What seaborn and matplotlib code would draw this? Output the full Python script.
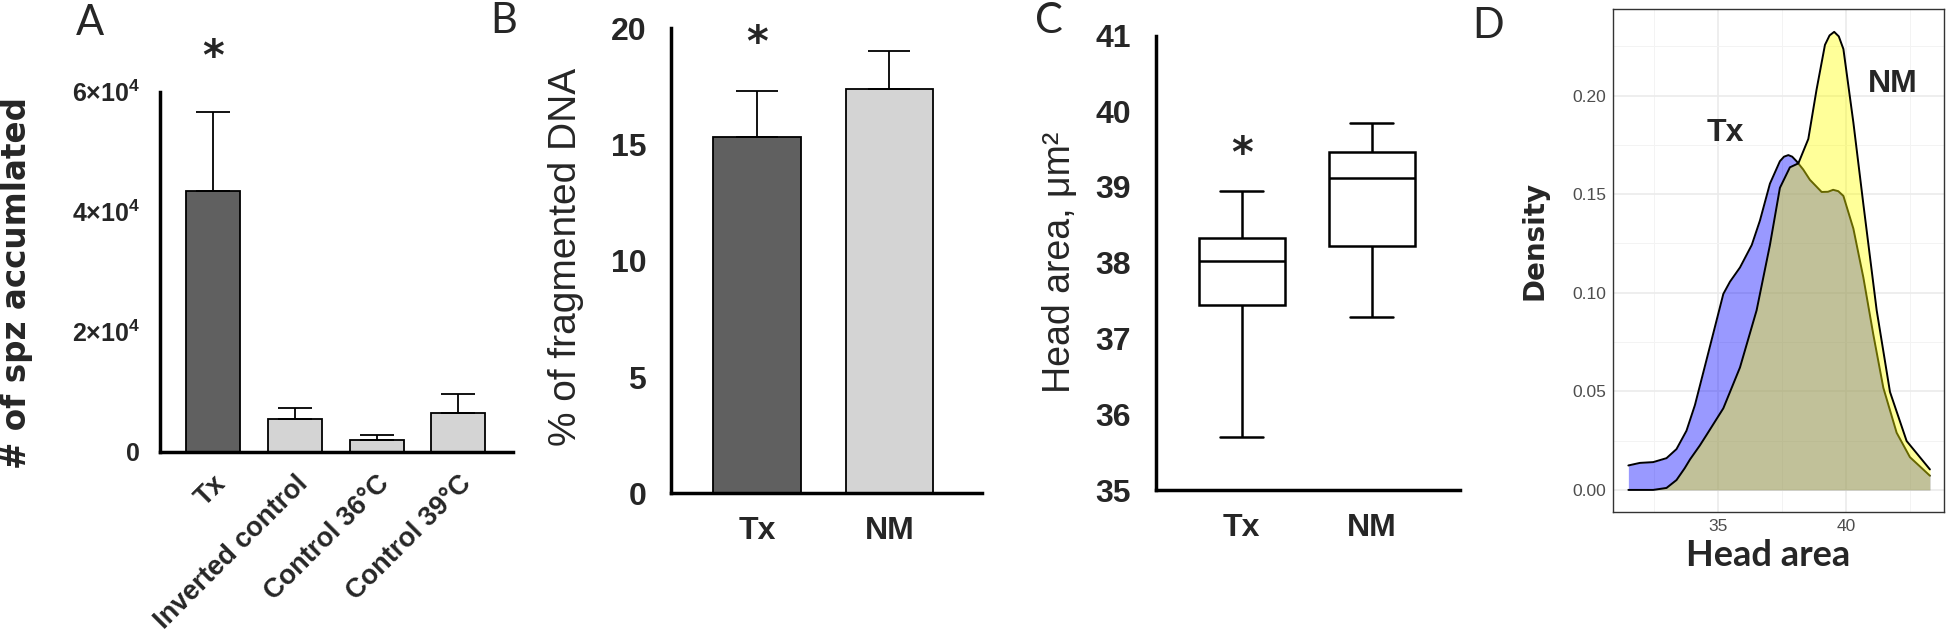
import numpy as np
import pandas as pd
import matplotlib
matplotlib.use("Agg")
import matplotlib.pyplot as plt
import seaborn as sns
from matplotlib.ticker import FixedLocator

# ---------------- data ----------------
a_groups = ["Tx", "Inverted control", "Control 36°C", "Control 39°C"]
a_means = [43500, 5500, 2000, 6500]
a_err = [13200, 1800, 850, 3050]
a_ticks = [0, 20000, 40000, 60000]
a_ticklabels = [r"$\mathbf{0}$", r"$\mathbf{2{\times}10^{4}}$",
                r"$\mathbf{4{\times}10^{4}}$", r"$\mathbf{6{\times}10^{4}}$"]

b_groups = ["Tx", "NM"]
b_means = [15.3, 17.4]
b_err = [2.0, 1.6]

c_groups = ["Tx", "NM"]
c_min = [35.70, 37.28]
c_q1 = [37.44, 38.22]
c_med = [38.02, 39.12]
c_q3 = [38.33, 39.46]
c_max = [38.95, 39.85]

d_tx_x = [31.50, 31.95, 32.47, 32.99, 33.38, 33.77, 34.10, 34.56, 35.21, 35.47, 35.86,
          36.32, 36.64, 37.03, 37.42, 37.58, 37.75, 37.90, 38.07, 38.33, 38.59, 39.05,
          39.30, 39.50, 39.70, 39.90, 40.29, 40.68, 41.07, 41.46, 41.98, 42.50, 43.28]
d_tx_y = [0.0124, 0.0137, 0.0141, 0.0161, 0.0207, 0.0300, 0.0430, 0.0663, 0.0994, 0.1056, 0.1128,
          0.1242, 0.1366, 0.1553, 0.1667, 0.1690, 0.1698, 0.1690, 0.1667, 0.1625, 0.1573, 0.1511,
          0.1512, 0.1522, 0.1515, 0.1491, 0.1325, 0.1077, 0.0787, 0.0518, 0.0290, 0.0166, 0.0072]
d_nm_x = [31.50, 32.47, 32.99, 33.38, 33.70, 33.91, 34.29, 34.56, 35.21, 35.86, 36.51,
          37.03, 37.42, 37.81, 38.14, 38.53, 38.85, 39.18, 39.36, 39.54, 39.72, 39.90,
          40.29, 40.68, 41.20, 41.72, 42.37, 43.28]
d_nm_y = [0.0, 0.0, 0.001, 0.005, 0.011, 0.0155, 0.0225, 0.028, 0.0414, 0.0621, 0.0911,
          0.1242, 0.1532, 0.1636, 0.1656, 0.1780, 0.2029, 0.2257, 0.2305, 0.2323, 0.2300, 0.2236,
          0.1863, 0.1449, 0.0911, 0.0497, 0.0248, 0.0104]

# ---------------- style ----------------
sns.set_theme(style="white")
plt.rcParams["font.family"] = ["Liberation Sans", "DejaVu Sans"]
plt.rcParams["mathtext.fontset"] = "custom"
plt.rcParams["mathtext.rm"] = "Liberation Sans"
plt.rcParams["mathtext.bf"] = "Liberation Sans:bold"
W, H = 1946, 640
fig = plt.figure(figsize=(W / 100, H / 100), dpi=100)


def box(l, t, r, b):
    return [l / W, 1 - b / H, (r - l) / W, (b - t) / H]


SPW = 2.5
DARK = "#606060"
LIGHT = "#D4D4D4"
BOLD = dict(fontweight="bold")
STAR = dict(ha="center", va="center", fontsize=30, fontweight="bold",
            family="DejaVu Sans", clip_on=False)


def prism_axes(ax):
    for s in ["top", "right"]:
        ax.spines[s].set_visible(False)
    for s in ["left", "bottom"]:
        ax.spines[s].set_linewidth(SPW)
        ax.spines[s].set_color("black")
    ax.tick_params(axis="both", direction="out", color="black", width=SPW)


# ---------------- Panel A ----------------
axA = fig.add_axes(box(160, 91.7, 513, 451.7))
dfA = pd.DataFrame({"group": a_groups, "value": a_means})
sns.barplot(data=dfA, x="group", y="value", hue="group",
            palette=[DARK, LIGHT, LIGHT, LIGHT], width=0.66, edgecolor="black",
            linewidth=1.3, legend=False, ax=axA)
axA.errorbar(x=np.arange(len(a_groups)), y=a_means, yerr=[np.zeros(len(a_err)), a_err],
             fmt="none", ecolor="black", elinewidth=1.3, capsize=12, capthick=1.3, zorder=1)
prism_axes(axA)
axA.set_xlim(-0.65, 3.67)
axA.set_ylim(0, 60000)
axA.yaxis.set_major_locator(FixedLocator(a_ticks))
axA.set_yticklabels(a_ticklabels, fontsize=18)
axA.tick_params(axis="y", length=9.4, pad=5)
axA.tick_params(axis="x", length=10.8, pad=3)
axA.set_xticks(range(len(a_groups)))
axA.set_xticklabels(a_groups, rotation=45, ha="right", rotation_mode="anchor",
                    fontsize=19.5, **BOLD)
axA.set_xlabel("")
axA.set_ylabel("# of spz accumlated", fontsize=23.5, fontweight="bold", family="DejaVu Sans")
axA.yaxis.set_label_coords(-0.36, 0.469)
axA.text(0, 65600, "*", **STAR)

# ---------------- Panel B ----------------
axB = fig.add_axes(box(671, 28.2, 982, 493.3))
dfB = pd.DataFrame({"group": b_groups, "value": b_means})
sns.barplot(data=dfB, x="group", y="value", hue="group", palette=[DARK, LIGHT],
            width=0.66, edgecolor="black", linewidth=1.3, legend=False, ax=axB)
axB.errorbar(x=np.arange(len(b_groups)), y=b_means, yerr=[np.zeros(len(b_err)), b_err],
             fmt="none", ecolor="black", elinewidth=1.3, capsize=15, capthick=1.3, zorder=1)
prism_axes(axB)
axB.set_xlim(-0.65, 1.70)
axB.set_ylim(0, 20)
axB.set_yticks([0, 5, 10, 15, 20])
axB.set_yticklabels(["0", "5", "10", "15", "20"], fontsize=23, **BOLD)
axB.tick_params(axis="y", length=14.4, pad=3.5)
axB.tick_params(axis="x", length=13.7, pad=3)
axB.set_xticks(range(len(b_groups)))
axB.set_xticklabels(b_groups, fontsize=23, **BOLD)
axB.set_xlabel("")
axB.set_ylabel("% of fragmented DNA", fontsize=28)
axB.yaxis.set_label_coords(-0.281, 0.508)
axB.text(0, 19.3, "*", **STAR)

# ---------------- Panel C ----------------
axC = fig.add_axes(box(1156, 35.5, 1460, 490))
rows = []
for g, a, b, c, d, e in zip(c_groups, c_min, c_q1, c_med, c_q3, c_max):
    for v in (a, b, c, d, e):
        rows.append({"group": g, "value": v})
dfC = pd.DataFrame(rows)
sns.boxplot(data=dfC, x="group", y="value", whis=(0, 100), width=0.66, color="white",
            linecolor="black", linewidth=1.8, fliersize=0, ax=axC)
prism_axes(axC)
axC.set_xlim(-0.66, 1.68)
axC.set_ylim(35, 41)
axC.set_yticks([35, 36, 37, 38, 39, 40, 41])
axC.set_yticklabels(["35", "36", "37", "38", "39", "40", "41"], fontsize=23, **BOLD)
axC.tick_params(axis="y", length=14.4, pad=3.5)
axC.tick_params(axis="x", length=13.7, pad=3)
axC.set_xticks(range(len(c_groups)))
axC.set_xticklabels(c_groups, fontsize=23, **BOLD)
axC.set_xlabel("")
axC.set_ylabel("Head area, μm²", fontsize=27)
axC.yaxis.set_label_coords(-0.257, 0.50)
axC.text(0, 39.42, "*", **STAR)

# ---------------- Panel D ----------------
axD = fig.add_axes(box(1613, 8.6, 1944, 512))
axD.set_facecolor("white")
axD.fill_between(d_tx_x, 0, d_tx_y, color="blue", alpha=0.4, linewidth=0, zorder=2)
sns.lineplot(x=d_tx_x, y=d_tx_y, color="black", linewidth=1.4, ax=axD, zorder=3)
axD.fill_between(d_nm_x, 0, d_nm_y, color="yellow", alpha=0.4, linewidth=0, zorder=4)
sns.lineplot(x=d_nm_x, y=d_nm_y, color="black", linewidth=1.4, ax=axD, zorder=5)
axD.set_xlim(30.9, 43.83)
axD.set_ylim(-0.0112, 0.2441)
axD.set_xticks([35, 40])
axD.set_xticks([32.5, 37.5, 42.5], minor=True)
axD.set_yticks([0, 0.05, 0.10, 0.15, 0.20])
axD.set_yticks([0.025, 0.075, 0.125, 0.175, 0.225], minor=True)
axD.set_xticklabels(["35", "40"], fontsize=12.5, color="#4D4D4D")
axD.set_yticklabels(["0.00", "0.05", "0.10", "0.15", "0.20"], fontsize=12.5, color="#4D4D4D")
axD.grid(True, which="major", color="#EBEBEB", linewidth=1.2, zorder=0)
axD.grid(True, which="minor", color="#F3F3F3", linewidth=0.7, zorder=0)
axD.set_axisbelow(True)
for s in axD.spines.values():
    s.set_color("#333333")
    s.set_linewidth(1.0)
axD.tick_params(axis="both", which="major", direction="out", length=3, width=0.8,
                color="#333333", pad=2)
axD.tick_params(axis="both", which="minor", length=0)
axD.set_xlabel("Head area", fontsize=26, fontweight="bold", family="Lato")
axD.xaxis.set_label_coords(0.468, -0.054)
axD.xaxis.label.set_va("top")
axD.set_ylabel("Density", fontsize=20, fontweight="bold", family="DejaVu Sans")
axD.yaxis.set_label_coords(-0.196, 0.539)
axD.text(35.27, 0.181, "Tx", ha="center", va="center", fontsize=23, fontweight="bold")
axD.text(41.84, 0.206, "NM", ha="center", va="center", fontsize=23, fontweight="bold")

# ---------------- panel letters ----------------
for lab, x, y in [("A", 90, 23.3), ("B", 504, 20.8), ("C", 1049, 20.8), ("D", 1488, 25.7)]:
    fig.text(x / W, 1 - y / H, lab, ha="center", va="center", fontsize=30, family="Lato")

fig.savefig("out.png", dpi=100)
